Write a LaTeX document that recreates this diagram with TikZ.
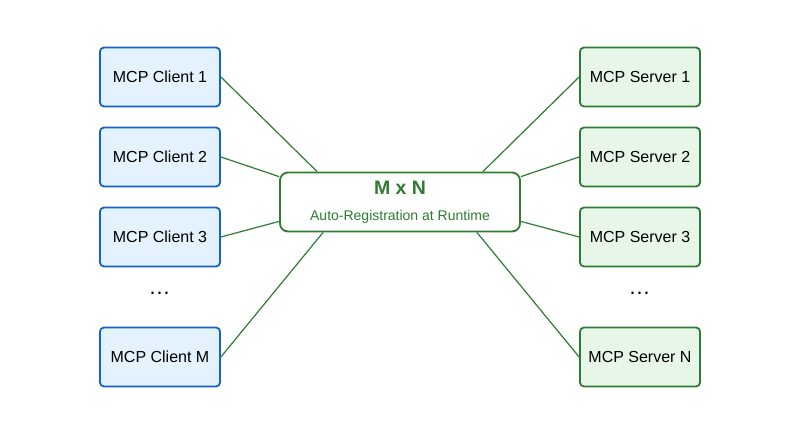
\documentclass[tikz,border=0pt]{standalone}
\usepackage{fontspec}
\setmainfont{Liberation Sans}
\usetikzlibrary{calc}
\definecolor{cblue}{HTML}{1565C0}
\definecolor{cbluefill}{HTML}{E3F2FD}
\definecolor{cgreen}{HTML}{2E7D32}
\definecolor{cgreenfill}{HTML}{E8F5E9}
\tikzset{
  clientbox/.style={draw=cblue, fill=cbluefill, line width=1.8pt, rounded corners=4pt,
    minimum width=120pt, minimum height=59pt, inner sep=0pt,
    font=\fontsize{16}{18}\selectfont, text=black},
  serverbox/.style={draw=cgreen, fill=cgreenfill, line width=1.8pt, rounded corners=4pt,
    minimum width=120pt, minimum height=59pt, inner sep=0pt,
    font=\fontsize{16}{18}\selectfont, text=black},
  hubbox/.style={draw=cgreen, fill=white, line width=1.8pt, rounded corners=8pt,
    minimum width=240pt, minimum height=59pt, inner sep=0pt},
  link/.style={draw=cgreen, line width=1.2pt},
  dots/.style={font=\fontsize{22}{24}\selectfont, text=black, anchor=base, inner sep=0pt}
}
\begin{document}
\begin{tikzpicture}[x=1pt,y=-1pt]
\useasboundingbox (0,0) rectangle (800,427);
\fill[white] (0,0) rectangle (800,427);

\node[hubbox] (hub) at (400,202) {};
\node[font=\bfseries\fontsize{19.5}{22}\selectfont, text=cgreen, anchor=base, inner sep=0pt] (title) at (400,195) {M x N};
\node[font=\fontsize{14}{16}\selectfont, text=cgreen, anchor=base, inner sep=0pt] (sub) at (400,220.5) {Auto-Registration at Runtime};

\node[clientbox] (c1) at (160,77) {MCP Client 1};
\node[clientbox] (c2) at (160,157) {MCP Client 2};
\node[clientbox] (c3) at (160,237) {MCP Client 3};
\node[clientbox] (cm) at (160,357) {MCP Client M};
\node[dots] (cdots) at (159.5,295) {…};

\node[serverbox] (s1) at (640,77) {MCP Server 1};
\node[serverbox] (s2) at (640,157) {MCP Server 2};
\node[serverbox] (s3) at (640,237) {MCP Server 3};
\node[serverbox] (sn) at (640,357) {MCP Server N};
\node[dots] (sdots) at (639.5,295) {…};

\coordinate (h1) at ($(hub.north west)+(38,0)$);
\coordinate (h2) at ($(hub.north west)+(0,5)$);
\coordinate (h3) at ($(hub.south west)+(0,-11)$);
\coordinate (hm) at ($(hub.south west)+(44,0)$);
\coordinate (g1) at ($(hub.north east)+(-38,0)$);
\coordinate (g2) at ($(hub.north east)+(0,5)$);
\coordinate (g3) at ($(hub.south east)+(0,-11)$);
\coordinate (gn) at ($(hub.south east)+(-44,0)$);

\draw[link] (c1.east) -- (h1);
\draw[link] (c2.east) -- (h2);
\draw[link] (c3.east) -- (h3);
\draw[link] (cm.east) -- (hm);
\draw[link] (s1.west) -- (g1);
\draw[link] (s2.west) -- (g2);
\draw[link] (s3.west) -- (g3);
\draw[link] (sn.west) -- (gn);
\end{tikzpicture}
\end{document}
